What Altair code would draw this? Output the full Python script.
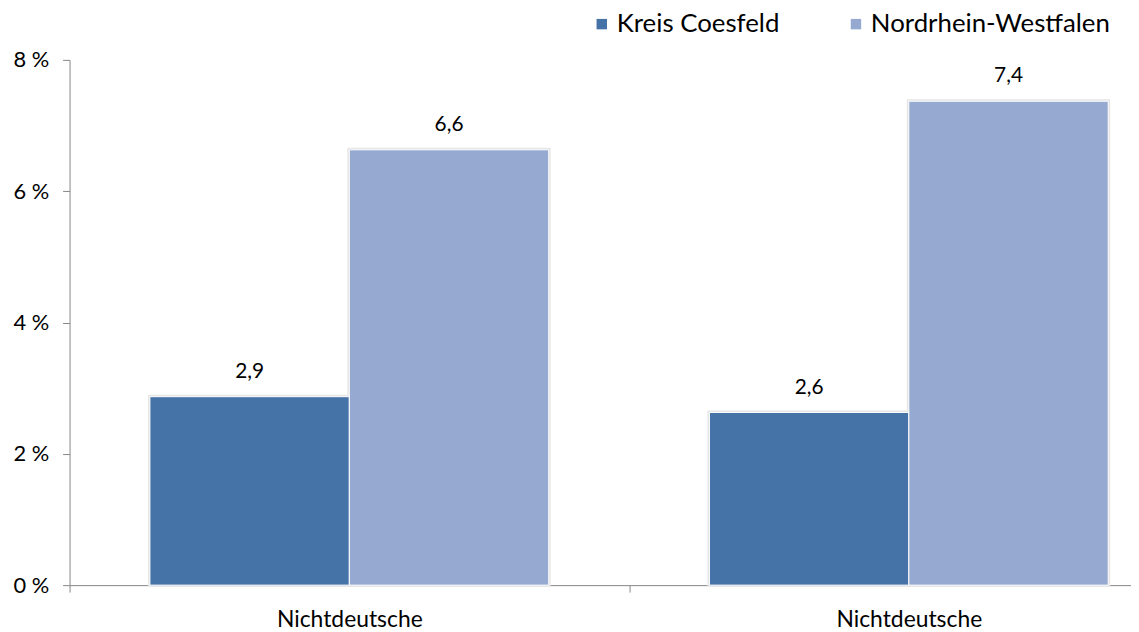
import altair as alt
import pandas as pd

categories = ["Nichtdeutsche", "Nichtdeutsche"]
series = ["Kreis Coesfeld", "Nordrhein-Westfalen"]
kreis_values = [2.87, 2.63]
nrw_values = [6.63, 7.37]
colors = ["#4572A7", "#96A9D0"]
y_ticks = [0, 2, 4, 6, 8]

rows = []
for i, cat in enumerate(categories):
    key = f"{cat}#{i}"
    for s, vals in zip(series, [kreis_values, nrw_values]):
        v = vals[i]
        rows.append({"key": key, "series": s, "value": v,
                     "label": f"{v:.1f}".replace(".", ",")})
df = pd.DataFrame(rows)

FONT = "Lato"
keys = list(dict.fromkeys(df["key"]))

x_enc = alt.X("key:N", sort=keys,
              scale=alt.Scale(range=[0, 1127], paddingInner=0, paddingOuter=0),
              axis=alt.Axis(title=None, labelExpr="split(datum.label, '#')[0]",
                            tickBand="extent", labelAngle=0, labelFontSize=23,
                            labelFont=FONT, labelColor="#000000", tickSize=7,
                            labelPadding=17, domainColor="#868686", tickColor="#868686"))
xo = alt.XOffset("series:N", sort=series,
                 scale=alt.Scale(paddingInner=0, paddingOuter=0.403))
y_enc = alt.Y("value:Q", scale=alt.Scale(domain=[0, 8], nice=False),
              axis=alt.Axis(title=None, values=y_ticks, labelExpr="datum.value + ' %'",
                            grid=False, labelFontSize=22, labelFont=FONT,
                            labelColor="#000000", tickSize=7, labelPadding=14,
                            domainColor="#868686", tickColor="#868686"))

shadow = alt.Chart(df).mark_bar(stroke="#e6e6e6", strokeWidth=4, color="#e6e6e6").encode(
    x=x_enc, xOffset=xo, y=y_enc
)
bars = alt.Chart(df).mark_bar(stroke="white", strokeWidth=1).encode(
    x=alt.X("key:N", sort=keys), xOffset=xo, y="value:Q",
    color=alt.Color("series:N", sort=series,
                    scale=alt.Scale(domain=series, range=colors),
                    legend=alt.Legend(title=None, orient="none", direction="horizontal",
                                      legendX=523, legendY=-49, symbolType="square",
                                      symbolSize=110, symbolStrokeWidth=0,
                                      labelFontSize=26, labelFont=FONT, labelLimit=400,
                                      labelColor="#000000", columnPadding=64,
                                      padding=0, labelOffset=2))
)
labels = alt.Chart(df).mark_text(baseline="bottom", dy=-15, fontSize=21, font=FONT,
                                 color="#000000").encode(
    x=alt.X("key:N", sort=keys), xOffset=xo, y="value:Q", text="label:N"
)

chart = alt.layer(shadow, bars, labels).properties(
    width=1069, height=529,
    autosize=alt.AutoSizeParams(type="none"),
    padding={"left": 62, "top": 50, "right": 0, "bottom": 50},
).configure_view(stroke=None)

chart.save("out.html", embed_options={"renderer": "svg", "actions": False})
